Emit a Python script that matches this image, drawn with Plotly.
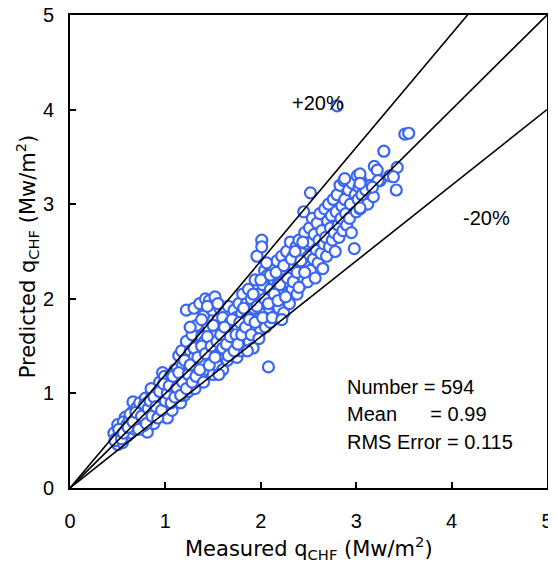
import plotly.graph_objects as go

# Measured / predicted CHF values (MW/m^2)
measured = [
    0.46,0.50,0.52,0.50,0.55,0.57,0.58,0.53,0.60,0.56,0.48,0.59,
    0.62,0.63,0.65,0.66,0.68,0.70,0.72,0.67,0.74,0.73,0.69,0.64,0.71,
    0.76,0.78,0.79,0.81,0.81,0.83,0.84,0.86,0.87,0.89,0.88,0.77,0.85,0.80,
    0.92,0.93,0.94,0.95,0.97,0.98,1.00,1.02,1.01,1.03,1.04,0.96,0.99,1.05,0.91,
    1.07,1.08,1.10,1.12,1.12,1.14,1.15,1.16,1.18,1.18,1.19,1.20,1.06,1.09,1.17,
    1.21,1.22,1.23,1.24,1.25,1.26,1.27,1.28,1.29,1.30,1.31,1.32,1.33,1.34,1.35,1.22,1.30,1.26,
    1.36,1.37,1.38,1.39,1.40,1.40,1.42,1.43,1.44,1.45,1.46,1.47,1.48,1.49,1.50,1.50,1.41,1.44,1.38,
    1.52,1.53,1.54,1.55,1.56,1.57,1.58,1.59,1.60,1.61,1.62,1.63,1.64,1.65,1.55,1.60,
    1.66,1.67,1.68,1.70,1.71,1.72,1.73,1.74,1.75,1.76,1.77,1.78,1.79,1.80,1.69,
    1.81,1.82,1.83,1.84,1.85,1.86,1.87,1.88,1.89,1.90,1.91,1.92,1.93,1.94,1.95,1.86,
    1.96,1.97,1.98,1.99,2.00,2.01,2.01,2.02,2.03,2.04,2.05,2.06,2.07,2.08,2.09,2.10,2.10,
    2.12,2.13,2.14,2.15,2.16,2.17,2.18,2.19,2.20,2.21,2.22,2.23,2.24,2.25,2.26,2.27,2.28,2.29,2.30,
    2.31,2.32,2.33,2.34,2.35,2.36,2.37,2.38,2.39,2.40,2.41,2.42,2.43,2.45,2.45,2.46,2.47,2.48,2.49,2.50,
    2.52,2.51,2.52,2.53,2.54,2.55,2.56,2.57,2.58,2.59,2.60,2.61,2.62,2.63,2.64,2.65,2.66,2.67,2.68,2.69,2.70,
    2.71,2.72,2.73,2.74,2.75,2.76,2.77,2.78,2.79,2.80,2.80,2.81,2.82,2.83,2.84,2.85,2.86,2.87,2.88,2.89,2.90,
    2.92,2.93,2.94,2.95,2.96,2.98,2.99,3.00,3.01,3.02,3.03,3.04,3.05,3.06,
    3.12,3.15,3.18,3.19,3.22,3.25,3.29,3.35,3.43,3.39,3.42,3.51,3.55,3.23,3.10,3.04,2.88,3.04,3.17,3.04,
    0.47,0.51,0.54,0.56,0.61,0.63,0.66,0.69,0.72,0.75,0.78,0.80,0.82,0.84,0.86,0.88,0.90,0.92,0.94,0.96,
    0.98,1.00,1.02,1.04,1.06,1.08,1.10,1.12,1.14,1.16,1.18,1.20,1.22,1.24,1.26,1.28,1.30,1.32,1.34,1.36,
    1.38,1.40,1.42,1.44,1.46,1.48,1.50,1.52,1.54,1.56,1.58,1.60,1.62,1.64,1.66,1.68,1.70,1.72,1.74,1.76,
    1.78,1.80,1.82,1.84,1.86,1.88,1.90,1.92,1.94,1.96,1.98,2.00,2.02,2.04,2.06,2.08,2.10,2.12,2.14,2.16,
    2.18,2.20,2.22,2.24,2.26,2.28,2.32,2.34,2.36,2.38,2.40,2.42,2.44,2.46,
]
predicted = [
    0.58,0.46,0.54,0.67,0.48,0.62,0.75,0.60,0.55,0.70,0.52,0.66,
    0.72,0.58,0.80,0.91,0.62,0.85,0.70,0.75,0.64,0.90,0.68,0.66,0.78,
    0.83,0.72,0.95,0.90,0.59,0.80,0.70,0.98,0.88,0.79,0.68,0.66,1.05,0.76,
    1.00,0.85,1.12,0.76,1.22,0.94,1.05,0.74,0.88,1.15,0.98,0.90,1.18,0.84,0.95,
    0.82,1.10,1.25,1.14,0.95,1.40,1.03,0.90,1.30,1.20,1.08,0.98,1.20,1.02,1.45,
    1.15,1.55,1.35,1.02,1.25,1.45,1.10,1.62,1.17,1.38,1.05,1.28,1.72,1.50,1.20,1.88,1.90,1.70,
    1.95,1.42,1.60,1.15,1.32,1.82,2.00,1.50,1.25,1.70,1.98,1.38,1.60,1.88,1.20,1.45,1.55,1.92,1.78,
    2.02,1.62,1.30,1.78,1.50,1.90,1.40,1.70,1.25,1.58,1.85,1.45,1.68,1.35,1.95,1.80,
    1.92,1.55,1.75,1.42,1.65,1.88,1.50,1.80,1.38,1.70,1.95,1.58,1.45,1.85,1.62,
    2.05,1.60,1.75,1.50,1.95,1.68,2.10,1.55,1.85,2.00,1.72,1.48,1.90,2.20,1.62,1.80,
    2.45,1.78,2.05,1.65,1.95,2.62,2.55,2.15,1.85,2.30,1.70,2.00,2.25,1.28,1.90,2.10,1.75,
    2.35,1.95,2.20,1.82,2.05,2.40,2.15,1.90,2.28,2.00,2.45,2.10,1.85,2.30,2.18,2.50,2.05,2.38,1.95,
    2.60,2.25,2.10,2.45,2.35,2.20,2.55,2.05,2.40,2.62,2.30,2.15,2.48,2.92,2.22,2.70,2.35,2.58,2.18,2.45,
    3.12,2.75,2.30,2.60,2.85,2.42,2.68,2.22,2.52,2.80,2.38,2.62,2.90,2.48,2.72,2.32,2.58,2.95,2.65,2.45,2.82,
    3.00,2.55,2.75,2.88,2.62,3.05,2.70,2.50,2.92,4.04,3.10,2.78,2.65,3.20,2.85,2.98,2.72,3.25,3.05,2.90,2.78,
    3.15,2.85,3.00,2.70,3.22,2.53,3.10,2.92,3.30,3.05,3.18,2.95,3.25,3.10,
    3.00,3.20,3.08,3.40,3.36,3.25,3.56,3.30,3.39,3.29,3.15,3.74,3.75,3.25,3.15,3.32,3.27,3.22,3.18,2.96,
    0.50,0.62,0.52,0.58,0.64,0.78,0.70,0.80,0.62,0.76,0.88,0.68,0.84,0.92,0.76,0.96,0.86,0.74,1.02,0.82,
    1.10,0.92,1.00,1.08,0.90,1.18,0.96,1.06,1.22,0.98,1.12,1.35,1.05,1.20,1.30,1.12,1.48,1.18,1.38,1.25,
    1.50,1.12,1.42,1.60,1.30,1.50,1.72,1.38,1.55,1.20,1.62,1.48,1.70,1.52,1.40,1.60,1.78,1.45,1.62,1.52,
    1.75,1.62,1.90,1.70,1.45,1.78,1.62,2.05,1.75,1.92,1.58,2.20,1.80,2.00,2.38,1.95,2.25,1.80,2.05,2.28,
    1.98,2.15,1.78,2.35,2.02,2.22,2.42,2.18,2.50,2.28,2.12,2.40,2.60,2.28,
]

ref_x = [0, 5]
ratio_labels = ["+20%", "-20%"]
stats_lines = ["Number = 594", "Mean      = 0.99", "RMS Error = 0.115"]
x_title = "Measured q<sub>CHF</sub> (Mw/m<sup>2</sup>)"
y_title = "Predicted q<sub>CHF</sub> (Mw/m<sup>2</sup>)"

FONT = "Liberation Sans, Arial, sans-serif"
TFONT = "DejaVu Sans, Verdana, sans-serif"
FS = 20

fig = go.Figure()
fig.add_trace(go.Scatter(
    x=measured, y=predicted, mode="markers",
    marker=dict(size=11, color="white", line=dict(color="#3A66F2", width=2.2)),
    showlegend=False, hoverinfo="x+y",
))
for k in [1.0, 1.2, 0.8]:
    fig.add_trace(go.Scatter(
        x=ref_x, y=[v * k for v in ref_x], mode="lines",
        line=dict(color="black", width=1.6), showlegend=False, hoverinfo="skip",
    ))

axis_common = dict(
    range=[0, 5], dtick=1, showline=True, linecolor="black", linewidth=2,
    mirror=True, ticks="inside", ticklen=6, tickwidth=1.5, tickcolor="black",
    showgrid=False, zeroline=False, automargin=False, ticklabeloverflow="allow",
    tickfont=dict(family=FONT, size=FS, color="black"),
)
fig.update_xaxes(**axis_common, ticklabelstandoff=14)
fig.update_yaxes(**axis_common, ticklabelstandoff=10)

fig.add_annotation(xref="paper", yref="paper", x=0.5, y=-0.127, text=x_title,
                   showarrow=False, yanchor="middle",
                   font=dict(family=TFONT, size=21, color="black"))
fig.add_annotation(xref="paper", yref="paper", x=-0.09, y=0.49, text=y_title,
                   showarrow=False, textangle=-90, xanchor="center", yanchor="middle",
                   font=dict(family=TFONT, size=21, color="black"))

fig.add_annotation(x=2.6, y=4.07, text=ratio_labels[0], showarrow=False,
                   font=dict(family=FONT, size=FS, color="black"))
fig.add_annotation(x=4.37, y=2.85, text=ratio_labels[1], showarrow=False,
                   font=dict(family=FONT, size=FS, color="black"))
for i, s in enumerate(stats_lines):
    fig.add_annotation(x=2.88, y=1.07 - i * 0.29, text=s, showarrow=False,
                       xanchor="left", font=dict(family=FONT, size=FS, color="black"))

# page body has an 8px margin, so the figure is offset by (8, 8)
fig.update_layout(
    width=548, height=557,
    margin=dict(l=62, r=9, t=7, b=77),
    plot_bgcolor="white", paper_bgcolor="white",
    font=dict(family=FONT, color="black"),
)
fig.write_html("out.html")
